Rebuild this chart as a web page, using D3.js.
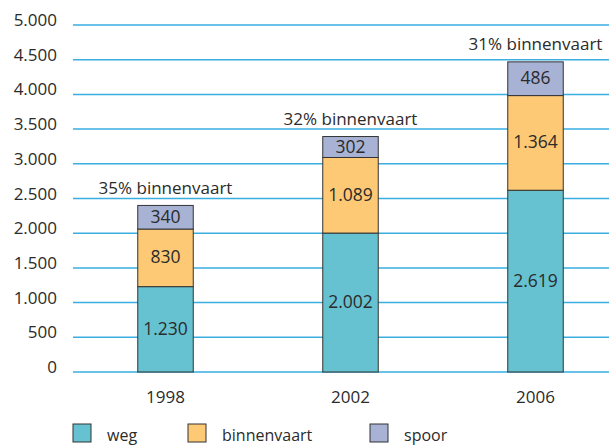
<!DOCTYPE html>
<html>
<head>
<meta charset="utf-8">
<style>
  body { margin: 0; background: #fff; }
  svg { display: block; font-family: 'Open Sans', 'DejaVu Sans', sans-serif; }
  .grid line { stroke: #3aaee0; stroke-width: 1.5; }
  .tick-label { font-size: 17px; fill: #2b2b2b; }
  .legend-label { font-size: 16px; fill: #2b2b2b; }
  .val { font-size: 17.5px; fill: #2b2b2b; }
</style>
</head>
<body>
<svg width="609" height="446"></svg>
<script src="https://d3js.org/d3.v7.min.js"></script>
<script>
  // data
  let years = ["1998", "2002", "2006"]
  let weg = [1230, 2002, 2619]
  let binnenvaart = [830, 1089, 1364]
  let spoor = [340, 302, 486]
  let shareLabels = ["35% binnenvaart", "32% binnenvaart", "31% binnenvaart"]
  let yTicks = [0, 500, 1000, 1500, 2000, 2500, 3000, 3500, 4000, 4500, 5000]

  let keys = ["weg", "binnenvaart", "spoor"]
  let colors = ["#66c2d0", "#fdc975", "#a7b2d4"]

  let rows = years.map((y, i) => ({ year: y, weg: weg[i], binnenvaart: binnenvaart[i], spoor: spoor[i] }))
  let series = d3.stack().keys(keys)(rows)

  let svg = d3.select("svg")
  let color = d3.scaleOrdinal().domain(keys).range(colors)

  let x = d3.scaleBand()
    .domain(years)
    .range([73, 628])
    .paddingInner(0.7)
    .paddingOuter(0.35)

  let y = d3.scaleLinear()
    .domain([0, 5000])
    .range([372, 25])

  let fmt = d3.formatLocale({ decimal: ",", thousands: ".", grouping: [3], currency: ["", ""] }).format(",")

  // gridlines
  let grid = svg.append("g").attr("class", "grid")
  grid.selectAll("line")
    .data(yTicks)
    .join("line")
    .attr("x1", 73).attr("x2", 609)
    .attr("y1", d => y(d)).attr("y2", d => y(d))

  svg.append("g").selectAll("text")
    .data(yTicks)
    .join("text")
    .attr("class", "tick-label")
    .attr("x", 57)
    .attr("y", d => y(d) + 1)
    .attr("text-anchor", "end")
    .text(d => fmt(d))

  // bars
  let layers = svg.append("g").selectAll("g")
    .data(series)
    .join("g")
    .attr("fill", d => color(d.key))

  layers.selectAll("rect")
    .data(d => d)
    .join("rect")
    .attr("x", d => x(d.data.year))
    .attr("width", x.bandwidth())
    .attr("y", d => y(d[1]))
    .attr("height", d => y(d[0]) - y(d[1]))
    .attr("stroke", "#333")
    .attr("stroke-width", 1)

  layers.selectAll("text")
    .data(d => d.map(v => ({ v, key: d.key })))
    .join("text")
    .attr("class", "val")
    .attr("text-anchor", "middle")
    .attr("x", d => x(d.v.data.year) + x.bandwidth() / 2)
    .attr("y", d => (y(d.v[0]) + y(d.v[1])) / 2 + 5.5)
    .attr("fill", "#2b2b2b")
    .text(d => fmt(d.v.data[d.key]))

  // share labels above the bars
  svg.append("g").selectAll("text")
    .data(rows)
    .join("text")
    .attr("class", "tick-label")
    .attr("text-anchor", "middle")
    .attr("x", d => x(d.year) + x.bandwidth() / 2)
    .attr("y", d => y(d.weg + d.binnenvaart + d.spoor) - 11.5)
    .text((d, i) => shareLabels[i])

  // x labels
  svg.append("g").selectAll("text")
    .data(years)
    .join("text")
    .attr("class", "tick-label")
    .attr("text-anchor", "middle")
    .attr("x", d => x(d) + x.bandwidth() / 2)
    .attr("y", 403)
    .text(d => d)

  // legend
  let legendX = [73, 188, 370]
  let legend = svg.append("g").selectAll("g")
    .data(keys)
    .join("g")
    .attr("transform", (d, i) => `translate(${legendX[i]},424)`)

  legend.append("rect")
    .attr("width", 18).attr("height", 18)
    .attr("fill", d => color(d))
    .attr("stroke", "#333")

  legend.append("text")
    .attr("class", "legend-label")
    .attr("x", 34)
    .attr("y", 17)
    .text(d => d)
</script>
</body>
</html>
